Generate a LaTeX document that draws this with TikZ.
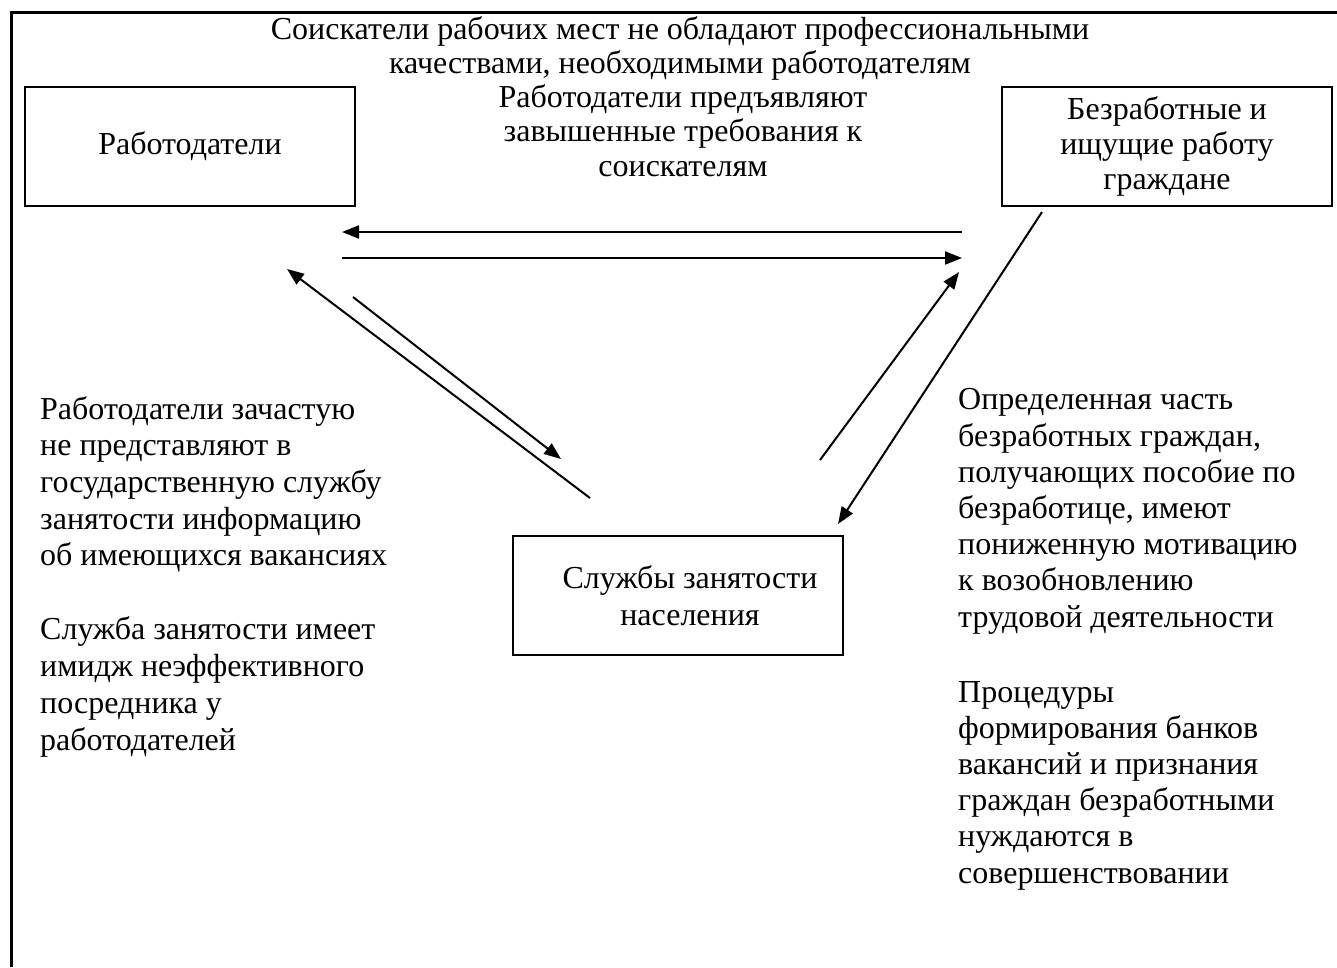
\documentclass[tikz,border=0pt]{standalone}
\usepackage{fontspec}
\setmainfont{Liberation Serif}
\usetikzlibrary{arrows.meta}
\begin{document}
\begin{tikzpicture}[
    x=1pt, y=-1pt,
    every node/.style={font=\fontsize{32}{36.5}\selectfont, inner sep=0pt},
    box/.style={draw, line width=2pt, minimum width=330pt, minimum height=119pt, align=center},
    note/.style={align=left, anchor=base west},
    arr/.style={line width=2pt, -{Triangle[length=17pt,width=13pt]}}
  ]
  \useasboundingbox (0,0) rectangle (1337,967);
  \draw[line width=3pt] (11,967) -- (11,12) -- (1337,12);

  % three parties
  \node[box] (emp) at (190,146.5) {Работодатели};
  \node[box, font=\fontsize{32}{35}\selectfont] (job) at (1167,146.5) {Безработные и\\ищущие работу\\граждане};
  \node[box] (srv) at (678,595.5) {};
  \node[align=center, anchor=base] (srvtxt) at (690,625) {Службы занятости\\населения};

  % problems (base = last line)
  \node[align=center, anchor=base, font=\fontsize{32}{34.5}\selectfont] (lack) at (680,73.5)
    {Соискатели рабочих мест не обладают профессиональными\\качествами, необходимыми работодателям};
  \node[align=center, anchor=base, font=\fontsize{32}{34.5}\selectfont] (high) at (683,176)
    {Работодатели предъявляют\\завышенные требования к\\соискателям};
  \node[note, font=\fontsize{32}{36.7}\selectfont] (lnote) at (40,750)
    {Работодатели зачастую\\не представляют в\\государственную службу\\занятости информацию\\об имеющихся вакансиях\\[37.3pt]Служба занятости имеет\\имидж неэффективного\\посредника у\\работодателей};
  \node[note, font=\fontsize{32}{36.2}\selectfont] (rnote) at (958,883)
    {Определенная часть\\безработных граждан,\\получающих пособие по\\безработице, имеют\\пониженную мотивацию\\к возобновлению\\трудовой деятельности\\[38.8pt]Процедуры\\формирования банков\\вакансий и признания\\граждан безработными\\нуждаются в\\совершенствовании};

  % arrows
  \coordinate (a1) at (962,232);
  \coordinate (a2) at (342,232);
  \coordinate (b1) at (342,258);
  \coordinate (b2) at (962,258);
  \coordinate (c1) at (590,498);
  \coordinate (c2) at (287,269);
  \coordinate (d1) at (353,297);
  \coordinate (d2) at (561,459);
  \coordinate (e1) at (820,460);
  \coordinate (e2) at (959,272);
  \coordinate (f1) at (1042,212);
  \coordinate (f2) at (838,524);
  \draw[arr] (a1) -- (a2);
  \draw[arr] (b1) -- (b2);
  \draw[arr] (c1) -- (c2);
  \draw[arr] (d1) -- (d2);
  \draw[arr] (e1) -- (e2);
  \draw[arr] (f1) -- (f2);
\end{tikzpicture}
\end{document}
